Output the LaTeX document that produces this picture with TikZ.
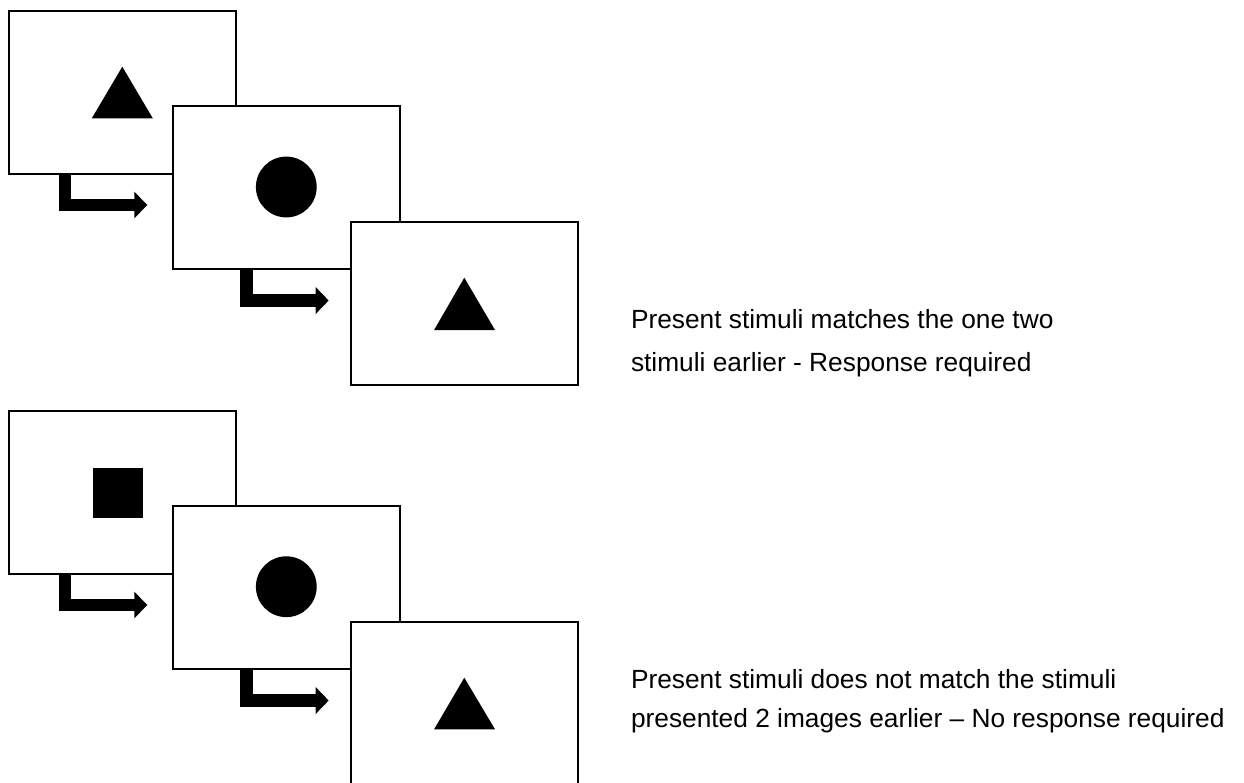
\documentclass[tikz,border=0pt]{standalone}
\usepackage{fontspec}
\setmainfont{Liberation Sans}
\usetikzlibrary{arrows.meta,calc}
\begin{document}
\begin{tikzpicture}[x=1pt,y=-1pt,
  screen/.style={draw=black, line width=2.3pt, fill=white, minimum width=227pt,
    minimum height=162.5pt, inner sep=0pt, outer sep=0pt, anchor=north west},
  solid shape/.style={fill=black, draw=none},
  flow/.style={draw=black, line width=12.5pt, line join=miter,
    -{Triangle[length=13pt,width=26pt]}},
  caption/.style={anchor=base west, inner sep=0pt, outer sep=0pt,
    font=\fontsize{26.3}{30}\selectfont}]
\useasboundingbox (0,0) rectangle (1244,782);
\clip (0,0) rectangle (1244,782);
\fill[white] (0,0) rectangle (1244,782);

% ---------- top sequence ----------
\node[screen] (a1) at (9,11.2) {};
\node[screen] (a2) at (172.8,106.2) {};
\node[screen] (a3) at (350.9,222.2) {};
\fill[solid shape] (122.3,66.7) -- (152.8,118.3) -- (91.8,118.3) -- cycle;
\fill[solid shape] (286.3,187) circle[radius=30.4];
\fill[solid shape] (464.3,277.7) -- (495,330) -- (434.1,330) -- cycle;
\coordinate (a1s) at ($(a1.south west)+(56,0)$);
\coordinate (a1t) at (147.3,205);
\coordinate (a2s) at ($(a2.south west)+(73.5,0)$);
\coordinate (a2t) at (328.7,300.5);
\draw[flow] (a1s) |- (a1t);
\draw[flow] (a2s) |- (a2t);
\node[caption] (ta1) at (631,328.3) {Present stimuli matches the one two};
\node[caption] (ta2) at (631,371.7) {stimuli earlier - Response required};

% ---------- bottom sequence ----------
\node[screen] (b1) at (9,411.2) {};
\node[screen] (b2) at (172.8,506.2) {};
\node[screen] (b3) at (350.9,622.2) {};
\fill[solid shape] (92.7,468.3) rectangle (142.7,518.3);
\fill[solid shape] (286.3,586.7) circle[radius=30.4];
\fill[solid shape] (464.3,677.7) -- (495,729.3) -- (434.1,729.3) -- cycle;
\coordinate (b1s) at ($(b1.south west)+(56,0)$);
\coordinate (b1t) at (147.3,605);
\coordinate (b2s) at ($(b2.south west)+(73.5,0)$);
\coordinate (b2t) at (328.7,700.5);
\draw[flow] (b1s) |- (b1t);
\draw[flow] (b2s) |- (b2t);
\node[caption] (tb1) at (631,688.3) {Present stimuli does not match the stimuli};
\node[caption] (tb2) at (631,727) {presented 2 images earlier – No response required};
\end{tikzpicture}
\end{document}
